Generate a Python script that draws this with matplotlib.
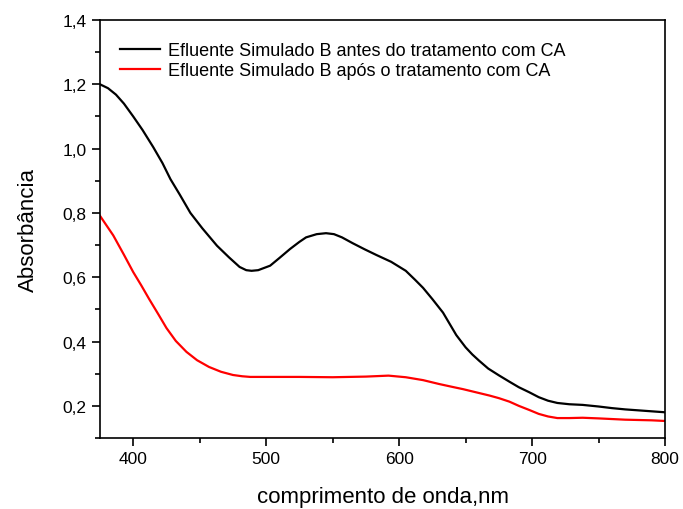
import matplotlib
matplotlib.use("Agg")
import matplotlib.pyplot as plt
from matplotlib.ticker import MultipleLocator, FuncFormatter

plt.rcParams['font.family'] = ['Liberation Sans', 'DejaVu Sans']

# Data
wl_antes = [375, 381, 387, 393, 400, 407, 415, 422, 428, 435, 443, 452, 463, 472, 480,
            485, 489, 494, 503, 510, 518, 525, 530, 538, 545, 551, 557, 565, 574, 583,
            594, 605, 612, 618, 625, 633, 643, 650, 655, 660, 667, 675, 683, 690, 698,
            705, 712, 719, 728, 738, 750, 760, 770, 780, 790, 800]
abs_antes = [1.200, 1.188, 1.168, 1.140, 1.100, 1.058, 1.005, 0.955, 0.905, 0.857, 0.800,
             0.752, 0.698, 0.662, 0.632, 0.622, 0.620, 0.622, 0.636, 0.660, 0.688, 0.710,
             0.724, 0.734, 0.737, 0.734, 0.724, 0.706, 0.687, 0.669, 0.648, 0.620, 0.592,
             0.567, 0.532, 0.490, 0.420, 0.382, 0.360, 0.341, 0.316, 0.295, 0.275, 0.258,
             0.242, 0.227, 0.216, 0.209, 0.205, 0.203, 0.198, 0.193, 0.189, 0.186, 0.183,
             0.180]

wl_apos = [375, 385, 393, 400, 406, 412, 419, 425, 432, 440, 448, 457, 466, 475, 482,
           488, 500, 525, 550, 575, 592, 605, 618, 630, 640, 648, 660, 668, 675, 683,
           690, 698, 705, 712, 719, 728, 738, 750, 760, 770, 780, 790, 800]
abs_apos = [0.791, 0.730, 0.670, 0.616, 0.575, 0.532, 0.484, 0.442, 0.402, 0.368, 0.342,
            0.321, 0.306, 0.296, 0.292, 0.290, 0.290, 0.290, 0.289, 0.291, 0.294, 0.289,
            0.280, 0.268, 0.259, 0.252, 0.240, 0.232, 0.224, 0.213, 0.200, 0.187, 0.175,
            0.167, 0.162, 0.162, 0.163, 0.161, 0.159, 0.157, 0.156, 0.155, 0.153]

labels = ["Efluente Simulado B antes do tratamento com CA",
          "Efluente Simulado B após o tratamento com CA"]

fig = plt.figure(figsize=(6.83, 5.10), dpi=100)
ax = fig.add_axes([0.1464, 0.1392, 0.8273, 0.8196])

ax.plot(wl_antes, abs_antes, color='black', lw=1.6, label=labels[0])
ax.plot(wl_apos, abs_apos, color='red', lw=1.6, label=labels[1])

ax.set_xlim(375, 800)
ax.set_ylim(0.1, 1.4)
ax.xaxis.set_major_locator(MultipleLocator(100))
ax.xaxis.set_minor_locator(MultipleLocator(50))
ax.yaxis.set_major_locator(MultipleLocator(0.2))
ax.yaxis.set_minor_locator(MultipleLocator(0.1))
ax.yaxis.set_major_formatter(FuncFormatter(lambda v, p: f"{v:.1f}".replace('.', ',')))

ax.tick_params(which='major', direction='out', length=6, width=1.2, labelsize=12.5)
ax.tick_params(which='minor', direction='out', length=3.5, width=1.2)
for s in ax.spines.values():
    s.set_linewidth(1.2)

ax.set_xlabel("comprimento de onda,nm", fontsize=16, labelpad=14)
ax.set_ylabel("Absorbância", fontsize=16, labelpad=17)

ax.legend(loc='upper left', bbox_to_anchor=(0.004, 0.99), frameon=False, fontsize=13,
          handlelength=2.2, handletextpad=0.45, labelspacing=0.16, borderaxespad=0.6)

fig.savefig("out.png", dpi=100)
